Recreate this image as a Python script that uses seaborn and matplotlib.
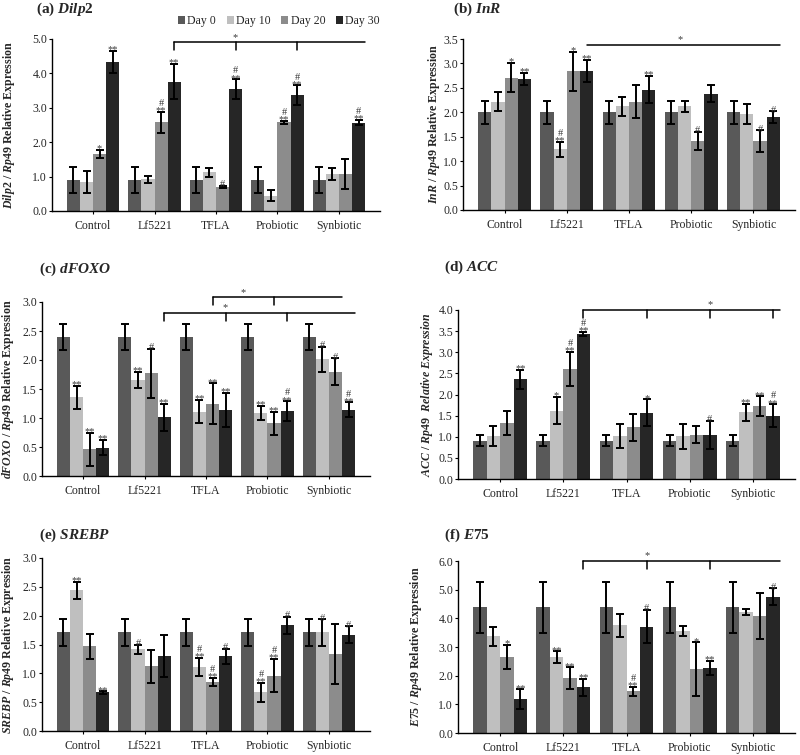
import matplotlib
matplotlib.use("Agg")
import matplotlib.pyplot as plt
import pandas as pd
import seaborn as sns
from matplotlib.ticker import FormatStrFormatter, MultipleLocator

groups = ["Control", "Lf5221", "TFLA", "Probiotic", "Synbiotic"]
days = ["Day 0", "Day 10", "Day 20", "Day 30"]
day_colors = ["#595959", "#bfbfbf", "#8c8c8c", "#262626"]

# rows follow groups, columns follow days
dilp2_mean = [[0.90, 0.84, 1.66, 4.33], [0.90, 0.92, 2.58, 3.76], [0.90, 1.12, 0.71, 3.54],
              [0.90, 0.45, 2.58, 3.36], [0.90, 1.08, 1.08, 2.57]]
dilp2_err = [[0.37, 0.33, 0.11, 0.33], [0.37, 0.10, 0.30, 0.51], [0.37, 0.14, 0.03, 0.29],
             [0.37, 0.15, 0.05, 0.29], [0.37, 0.18, 0.44, 0.08]]
dilp2_sig = [["", "", "*", "**"], ["", "", "#\n**", "**"], ["", "", "#", "#\n**"],
             ["", "", "#\n**", "#\n**"], ["", "", "", "#\n**"]]

inr_mean = [[2.00, 2.22, 2.71, 2.68], [2.00, 1.24, 2.84, 2.84], [2.00, 2.12, 2.22, 2.46],
            [2.00, 2.12, 1.41, 2.38], [2.00, 1.97, 1.41, 1.90]]
inr_err = [[0.24, 0.20, 0.30, 0.13], [0.24, 0.15, 0.40, 0.23], [0.24, 0.20, 0.34, 0.28],
           [0.24, 0.12, 0.19, 0.17], [0.24, 0.20, 0.22, 0.12]]
inr_sig = [["", "", "*", "**"], ["", "#\n**", "*", "**"], ["", "", "", "**"],
           ["", "", "#", ""], ["", "", "#", "#"]]

dfoxo_mean = [[2.40, 1.36, 0.46, 0.49], [2.40, 1.66, 1.77, 1.01], [2.40, 1.11, 1.25, 1.14],
              [2.40, 1.09, 0.91, 1.12], [2.40, 2.01, 1.80, 1.14]]
dfoxo_err = [[0.22, 0.20, 0.28, 0.13], [0.22, 0.14, 0.42, 0.23], [0.22, 0.20, 0.35, 0.29],
             [0.22, 0.12, 0.20, 0.17], [0.22, 0.22, 0.23, 0.13]]
dfoxo_sig = [["", "**", "**", "**"], ["", "**", "#", "**"], ["", "**", "**", "**"],
             ["", "**", "**", "#\n**"], ["", "#", "#", "#\n**"]]

acc_mean = [[0.90, 1.01, 1.33, 2.36], [0.90, 1.62, 2.61, 3.43], [0.90, 1.01, 1.23, 1.57],
            [0.90, 1.01, 1.05, 1.05], [0.90, 1.58, 1.73, 1.50]]
acc_err = [[0.13, 0.24, 0.28, 0.22], [0.13, 0.32, 0.40, 0.05], [0.13, 0.28, 0.32, 0.32],
           [0.13, 0.30, 0.20, 0.33], [0.13, 0.20, 0.23, 0.27]]
acc_sig = [["", "", "", "**"], ["", "*", "#\n**", "#\n**"], ["", "", "", "*"],
           ["", "", "", "#"], ["", "**", "**", "#\n**"]]

srebp_mean = [[1.71, 2.44, 1.47, 0.67], [1.71, 1.42, 1.12, 1.30], [1.71, 1.11, 0.85, 1.30],
              [1.71, 0.67, 0.96, 1.83], [1.71, 1.71, 1.33, 1.67]]
srebp_err = [[0.23, 0.15, 0.22, 0.02], [0.23, 0.08, 0.28, 0.37], [0.23, 0.16, 0.07, 0.13],
             [0.23, 0.16, 0.29, 0.15], [0.23, 0.23, 0.52, 0.15]]
srebp_sig = [["", "**", "", "**"], ["", "#", "", ""], ["", "#\n**", "#\n**", "#"],
             ["", "#\n**", "#\n**", "#"], ["", "#", "", "#"]]

e75_mean = [[4.38, 3.38, 2.65, 1.17], [4.38, 2.65, 1.91, 1.60], [4.38, 3.76, 1.45, 3.71],
            [4.38, 3.55, 2.23, 2.28], [4.38, 4.21, 4.07, 4.75]]
e75_err = [[0.90, 0.33, 0.43, 0.35], [0.90, 0.20, 0.38, 0.30], [0.90, 0.40, 0.15, 0.58],
           [0.90, 0.18, 0.93, 0.24], [0.90, 0.10, 0.80, 0.30]]
e75_sig = [["", "", "*", "**"], ["", "**", "**", "**"], ["", "", "#\n**", "#"],
           ["", "", "*", "**"], ["", "", "", "#"]]

W, H = 800, 755

sns.set_style("ticks")
plt.rcParams["font.family"] = ["Liberation Serif", "DejaVu Serif"]
plt.rcParams["mathtext.fontset"] = "custom"
plt.rcParams["mathtext.it"] = "Liberation Serif:italic:bold"
plt.rcParams["mathtext.rm"] = "Liberation Serif:bold"
plt.rcParams["mathtext.bf"] = "Liberation Serif:bold"


def box(left, top, right, bottom):
    return [left / W, 1 - bottom / H, (right - left) / W, (bottom - top) / H]


def long_table(means):
    rows = []
    for g, vals in zip(groups, means):
        for d, v in zip(days, vals):
            rows.append({"group": g, "day": d, "value": v})
    return pd.DataFrame(rows)


panels = [
    dict(title="(a) $\\mathit{Dilp2}$", ylabel="$\\mathit{Dilp2\\ /\\ Rp49}$ Relative Expression",
         mean=dilp2_mean, err=dilp2_err, sig=dilp2_sig, ymax=5.0, step=1.0,
         rect=box(52, 39, 380, 211), title_xy=(36, 9), ylabel_x=9,
         brackets=[dict(day=3, y=4.9, start=1, end=4, ticks=[1, 2, 3], star=[2])]),
    dict(title="(b) $\\mathit{InR}$", ylabel="$\\mathit{InR\\ /\\ Rp49}$ Relative Expression",
         mean=inr_mean, err=inr_err, sig=inr_sig, ymax=3.5, step=0.5,
         rect=box(463, 39, 795, 210), title_xy=(453, 9), ylabel_x=434,
         brackets=[dict(day=3, y=3.38, start=1, end=4, ticks=[], star=[1, 4])]),
    dict(title="(c) $\\mathit{dFOXO}$", ylabel="$\\mathit{dFOXO\\ /\\ Rp49}$ Relative Expression",
         mean=dfoxo_mean, err=dfoxo_err, sig=dfoxo_sig, ymax=3.0, step=0.5,
         rect=box(42, 302, 370, 476), title_xy=(39, 269), ylabel_x=8,
         brackets=[dict(day=2, y=3.08, start=2, end=4, ticks=[2, 3], star=[2, 3]),
                   dict(day=3, y=2.81, start=1, end=4, ticks=[1, 2, 3], star=[2])]),
    dict(title="(d) $\\mathit{ACC}$", ylabel="$\\mathit{ACC\\ /\\ Rp49\\ \\ Relative\\ Expression}$",
         mean=acc_mean, err=acc_err, sig=acc_sig, ymax=4.0, step=0.5,
         rect=box(458, 310, 795, 479), title_xy=(444, 267), ylabel_x=427,
         brackets=[dict(day=3, y=4.0, start=1, end=4, ticks=[1, 2, 3, 4], star=[3])]),
    dict(title="(e) $\\mathit{SREBP}$", ylabel="$\\mathit{SREBP\\ /\\ Rp49}$ Relative Expression",
         mean=srebp_mean, err=srebp_err, sig=srebp_sig, ymax=3.0, step=0.5,
         rect=box(42, 558, 370, 731), title_xy=(39, 535), ylabel_x=8, brackets=[]),
    dict(title="(f) $\\mathit{E75}$", ylabel="$\\mathit{E75\\ /\\ Rp49}$ Relative Expression",
         mean=e75_mean, err=e75_err, sig=e75_sig, ymax=6.0, step=1.0,
         rect=box(458, 561, 795, 733), title_xy=(444, 535), ylabel_x=416,
         brackets=[dict(day=3, y=6.0, start=1, end=4, ticks=[1, 2, 3], star=[2])]),
]

fig = plt.figure(figsize=(W / 100, H / 100), dpi=100)

for k, p in enumerate(panels):
    ax = fig.add_axes(p["rect"])
    df = long_table(p["mean"])
    sns.barplot(data=df, x="group", y="value", hue="day", order=groups, hue_order=days,
                palette=day_colors, saturation=1, width=0.85, errorbar=None, linewidth=0,
                legend=(k == 0), ax=ax)

    xpos = [[0.0] * 4 for _ in groups]
    bar_w = 0.2
    for j, cont in enumerate(ax.containers):
        for i, bar in enumerate(cont):
            xpos[i][j] = bar.get_x() + bar.get_width() / 2
            bar_w = bar.get_width()

    for j in range(4):
        xs = [xpos[i][j] for i in range(len(groups))]
        ys = [p["mean"][i][j] for i in range(len(groups))]
        es = [p["err"][i][j] for i in range(len(groups))]
        ax.errorbar(xs, ys, yerr=es, fmt="none", ecolor="black", elinewidth=1.4,
                    capsize=2.8, capthick=1.4, zorder=3)

    for i in range(len(groups)):
        for j in range(4):
            mark = p["sig"][i][j]
            if mark:
                top = p["mean"][i][j] + p["err"][i][j]
                ax.annotate(mark, (xpos[i][j], top), xytext=(0, -2.5), textcoords="offset points",
                            ha="center", va="bottom", fontsize=7.5, linespacing=0.75,
                            color="#3a3a3a", annotation_clip=False)

    tick_len = p["ymax"] * 0.045
    for b in p["brackets"]:
        d = b["day"]
        x0 = xpos[b["start"]][d]
        x1 = xpos[b["end"]][d] + bar_w / 2
        ax.plot([x0, x1], [b["y"], b["y"]], color="black", lw=1.1, clip_on=False)
        for t in b["ticks"]:
            ax.plot([xpos[t][d]] * 2, [b["y"], b["y"] - tick_len], color="black", lw=1.1,
                    clip_on=False)
        sx = sum(xpos[s][d] for s in b["star"]) / len(b["star"])
        ax.annotate("*", (sx, b["y"]), xytext=(0, 0.5), textcoords="offset points",
                    ha="center", va="bottom", fontsize=7.5, color="#3a3a3a",
                    annotation_clip=False)

    ax.set_ylim(0, p["ymax"])
    ax.yaxis.set_major_locator(MultipleLocator(p["step"]))
    ax.yaxis.set_major_formatter(FormatStrFormatter("%.1f"))
    ax.set_xlabel("")
    ax.set_ylabel("")
    ax.tick_params(axis="y", labelsize=8.5, length=2, width=0.8, color="black", pad=1.5)
    ax.tick_params(axis="x", labelsize=8.5, length=2.5, width=0.8, color="black", pad=4)
    sns.despine(ax=ax)
    for s in ("left", "bottom"):
        ax.spines[s].set_color("black")
        ax.spines[s].set_linewidth(1.0)

    tx, ty = p["title_xy"]
    fig.text(tx / W, 1 - ty / H, p["title"], fontsize=11, fontweight="bold",
             ha="left", va="center")
    l, b0, w, h = p["rect"]
    fig.text(p["ylabel_x"] / W, b0 + h / 2, p["ylabel"], fontsize=8.6, fontweight="bold",
             rotation=90, ha="center", va="center")

    if k == 0:
        handles, labels = ax.get_legend_handles_labels()
        ax.legend(handles, labels, ncol=4, loc="center right",
                  bbox_to_anchor=(380 / W, 1 - 21 / H), bbox_transform=fig.transFigure,
                  frameon=False, fontsize=8.5, handlelength=0.6, handleheight=0.6,
                  handletextpad=0.2, columnspacing=0.9, borderpad=0, borderaxespad=0)

fig.savefig("out.png", dpi=100)
